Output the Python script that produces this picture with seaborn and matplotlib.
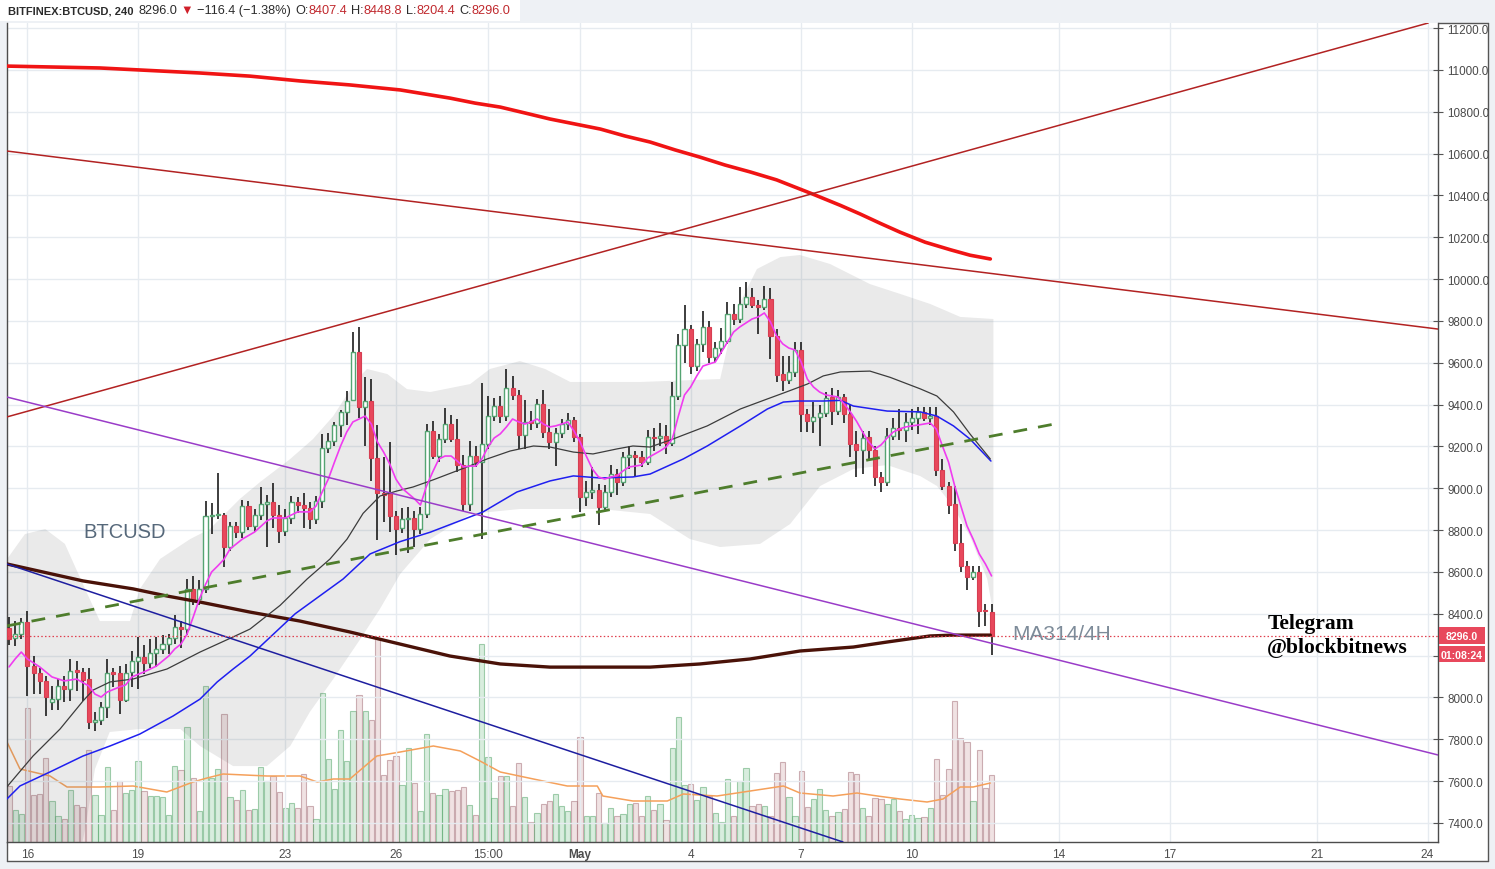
import numpy as np
import pandas as pd
import matplotlib
matplotlib.use("Agg")
import matplotlib.pyplot as plt
import seaborn as sns
from matplotlib.patches import Rectangle
from matplotlib.lines import Line2D

# ---- data: BITFINEX BTCUSD 4h candles, first bar 2018-04-15 12:00 ----
start_time = pd.Timestamp("2018-04-15 12:00")

opens = [8332, 8284, 8303, 8361, 8150, 8117, 8079, 7980, 7992, 8055,
         8040, 8131, 8120, 8088, 7883, 7890, 7955, 8122, 8117, 7988,
         8122, 8174, 8194, 8165, 8213, 8232, 8255, 8284, 8337, 8327,
         8519, 8470, 8519, 8867, 8872, 8872, 8719, 8820, 8791, 8915,
         8820, 8872, 8925, 8935, 8872, 8796, 8858, 8935, 8920, 8905,
         8853, 8939, 9193, 9226, 9303, 9365, 9420, 9650, 9388, 9417,
         9145, 8977, 8977, 8867, 8810, 8853, 8858, 8805, 8877, 9274,
         9154, 9235, 9307, 9235, 9110, 8925, 9154, 9125, 9212, 9345,
         9393, 9345, 9479, 9446, 9254, 9320, 9312, 9403, 9269, 9221,
         9264, 9307, 9326, 9245, 8958, 8982, 8990, 8911, 8982, 9068,
         9030, 9150, 9160, 9150, 9125, 9245, 9238, 9250, 9216, 9441,
         9685, 9761, 9584, 9690, 9770, 9627, 9670, 9704, 9833, 9809,
         9880, 9914, 9876, 9866, 9905, 9728, 9546, 9517, 9555, 9661,
         9355, 9322, 9341, 9360, 9437, 9370, 9437, 9355, 9212, 9183,
         9245, 9183, 9054, 9030, 9250, 9288, 9280, 9317, 9335, 9365,
         9335, 9345, 9087, 9011, 8925, 8738, 8628, 8576, 8600, 8420,
         8407.4]
highs = [8386, 8366, 8381, 8415, 8198, 8140, 8102, 8055, 8088, 8102,
         8184, 8175, 8140, 8141, 7930, 7980, 8184, 8140, 8150, 8160,
         8222, 8289, 8250, 8280, 8290, 8300, 8304, 8395, 8365, 8565,
         8582, 8560, 8939, 8930, 9073, 8880, 8839, 8840, 8945, 8940,
         8900, 9005, 8968, 9025, 8920, 8900, 8965, 8960, 8975, 8935,
         8965, 9260, 9265, 9315, 9375, 9465, 9745, 9770, 9532, 9520,
         9300, 9150, 9220, 8890, 8905, 8910, 8890, 8910, 9308, 9320,
         9260, 9383, 9350, 9330, 9160, 9225, 9200, 9503, 9440, 9430,
         9440, 9570, 9535, 9470, 9420, 9370, 9425, 9470, 9380, 9290,
         9330, 9360, 9340, 9260, 9035, 9100, 9020, 9015, 9110, 9092,
         9175, 9200, 9180, 9180, 9280, 9290, 9310, 9300, 9508, 9737,
         9876, 9780, 9715, 9847, 9800, 9700, 9765, 9890, 9880, 9962,
         9986, 9957, 9900, 9967, 9957, 9760, 9630, 9630, 9700, 9700,
         9380, 9410, 9400, 9460, 9480, 9470, 9450, 9400, 9275, 9275,
         9275, 9200, 9080, 9290, 9335, 9379, 9360, 9380, 9390, 9390,
         9390, 9390, 9140, 9030, 9010, 8830, 8650, 8630, 8630, 8445,
         8448.8]
lows = [8251, 8246, 8279, 8007, 8016, 8016, 7911, 7940, 7940, 7980,
        7985, 8030, 7985, 7850, 7840, 7870, 7900, 8050, 7920, 7980,
        8050, 8040, 8110, 8140, 8145, 8210, 8210, 8255, 8235, 8300,
        8440, 8440, 8500, 8782, 8853, 8624, 8700, 8760, 8760, 8800,
        8790, 8850, 8720, 8810, 8740, 8770, 8830, 8880, 8810, 8805,
        8830, 8905, 9170, 9200, 9245, 9300, 9417, 9335, 9202, 9035,
        8755, 8840, 8790, 8680, 8785, 8690, 8720, 8780, 8860, 9140,
        9125, 9215, 9220, 9080, 8891, 8890, 9100, 8757, 9190, 9320,
        9310, 9320, 9420, 9188, 9190, 9280, 9290, 9240, 9188, 9106,
        9240, 9280, 9220, 8886, 8915, 8950, 8825, 8890, 8960, 8970,
        9010, 9090, 9060, 9100, 9110, 9180, 9200, 9165, 9200, 9420,
        9600, 9546, 9560, 9650, 9600, 9605, 9640, 9690, 9780, 9790,
        9860, 9860, 9737, 9850, 9618, 9508, 9465, 9500, 9530, 9269,
        9270, 9265, 9200, 9340, 9300, 9350, 9310, 9150, 9055, 9070,
        9140, 9011, 8982, 9010, 9230, 9230, 9220, 9280, 9260, 9320,
        9300, 9060, 8990, 8876, 8700, 8600, 8514, 8560, 8337, 8340,
        8204.4]
closes = [8280, 8303, 8361, 8150, 8117, 8079, 8000, 7992, 8055, 8040,
          8126, 8120, 8083, 7883, 7890, 7955, 8117, 8112, 7988, 8117,
          8174, 8194, 8165, 8213, 8232, 8255, 8284, 8337, 8327, 8519,
          8462, 8519, 8867, 8872, 8877, 8719, 8820, 8791, 8915, 8820,
          8872, 8925, 8935, 8872, 8796, 8858, 8935, 8920, 8905, 8853,
          8939, 9193, 9226, 9303, 9365, 9417, 9650, 9388, 9417, 9145,
          8977, 8968, 8867, 8805, 8853, 8858, 8805, 8877, 9274, 9154,
          9235, 9307, 9235, 9110, 8925, 9154, 9125, 9212, 9345, 9393,
          9345, 9479, 9446, 9254, 9317, 9312, 9403, 9269, 9221, 9264,
          9307, 9326, 9245, 8958, 8982, 8990, 8911, 8982, 9068, 9030,
          9150, 9160, 9150, 9125, 9245, 9238, 9250, 9216, 9441, 9685,
          9761, 9584, 9690, 9770, 9627, 9670, 9704, 9833, 9809, 9880,
          9914, 9876, 9866, 9905, 9728, 9542, 9517, 9555, 9661, 9355,
          9322, 9341, 9360, 9432, 9370, 9437, 9355, 9212, 9183, 9240,
          9183, 9054, 9030, 9250, 9288, 9280, 9317, 9335, 9365, 9335,
          9345, 9087, 9011, 8920, 8738, 8628, 8576, 8600, 8413, 8413,
          8296.0]
volume = [55.7, 32.3, 28, 134, 47.3, 48.3, 84, 41.3, 26.3, 23,
          52.3, 37.3, 34.7, 92.3, 47.3, 27.3, 75, 32.3, 61.3, 49,
          52.3, 81.3, 51.3, 45.7, 46.3, 44.7, 27.3, 76.3, 72.3, 115,
          64, 31.3, 156.3, 64, 73, 128, 45, 42.3, 52.3, 32.3,
          33, 75, 60.7, 65.7, 50, 34, 39, 34, 68, 36.3,
          23, 149, 83, 53, 112.3, 81.3, 130.7, 146.7, 130.7, 122.3,
          203, 67.3, 82.3, 86.3, 57.3, 94, 59, 31.3, 108.3, 49,
          47.3, 53.3, 50.7, 52.3, 54.7, 37.3, 27.3, 198, 85, 44,
          66.3, 66.3, 36.3, 79, 45, 20, 29, 38, 41.3, 48,
          36.3, 31.3, 41.3, 105, 25.7, 26.3, 49, 19, 34, 26.3,
          28, 38, 39, 26.3, 46.3, 32.3, 38, 22.3, 94, 125,
          57.3, 58, 42.3, 55, 45.7, 29, 20, 63, 26.3, 60.7,
          74, 36.3, 38.3, 36.3, 26.3, 69, 80, 44.7, 25.7, 71.3,
          35, 43, 53, 32.3, 26.3, 30, 33, 70, 68, 34,
          26.3, 44, 43, 38, 43.3, 31.3, 23.3, 27.3, 24, 25,
          34, 83, 47.3, 73, 141.3, 104, 100, 41.3, 92.3, 54,
          66.7]

# indicator lines (bar position, value)
pink_idx = [0, 1, 2, 3, 5, 7, 9, 11, 13, 14, 15, 16, 18, 19, 20, 22, 24, 26, 27, 28,
            29, 30, 31, 32, 33, 34, 35, 36, 38, 40, 42, 43, 45, 47, 49, 50] \
    + list(range(51, 105)) + list(range(106, 161))
pink_val = [8146, 8184, 8217, 8184, 8146, 8098, 8079, 8088, 8055, 8016, 8002, 8026,
            8050, 8060, 8098, 8122, 8150, 8198, 8232, 8255, 8303, 8385, 8471, 8540,
            8600, 8629, 8660, 8710, 8757, 8791, 8844, 8858, 8858, 8887, 8887, 8915,
            8982, 9044, 9125, 9202, 9269, 9317, 9331, 9345, 9307, 9221,
            9173, 9116, 9044, 9000, 8975, 8950, 8920, 9011, 9078, 9140,
            9154, 9154, 9130, 9102, 9106, 9106, 9140, 9197, 9240, 9260,
            9293, 9331, 9317, 9307, 9317, 9331, 9307, 9293, 9298, 9307,
            9317, 9274, 9221, 9154, 9092, 9054, 9044, 9054, 9059, 9083,
            9102, 9106, 9111, 9145,
            9178, 9197, 9235, 9345, 9446, 9484, 9537, 9584, 9594, 9603,
            9651, 9699, 9747, 9771, 9790, 9809, 9819, 9838, 9795, 9728,
            9690, 9670, 9661, 9603, 9522, 9484, 9460, 9446, 9441, 9436,
            9403, 9365, 9321, 9269, 9221, 9188, 9207, 9240, 9269, 9283,
            9293, 9298, 9302, 9307, 9312, 9283, 9202, 9125, 9011, 8915,
            8820, 8757, 8686, 8638, 8581]

black_idx = [-0.33, 3.91, 8.31, 12.05, 13.68, 16.45, 20.2, 25.73, 31.11, 36.48, 39.25,
             44.14, 48.54, 52.28, 55.05, 57.66, 60.42, 63.19, 65.8, 69.06, 74.6, 77.85,
             81.6, 85.4, 88.1, 91.9, 95.1, 99.0, 101.6, 104.4, 108.1, 113.7, 119.1,
             123.5, 126.1, 130.0, 132.6, 135.4, 140.2, 143.5, 148.4, 151.1, 153.8,
             156.5, 159.8]
black_val = [7573, 7720, 7849, 7983, 8035, 8074, 8088, 8136, 8217, 8289, 8327,
             8440, 8566, 8662, 8757, 8880, 8963, 8987, 9006, 9040, 9102, 9140,
             9178, 9202, 9197, 9173, 9164, 9188, 9202, 9197, 9235, 9298, 9379,
             9427, 9455, 9498, 9537, 9556, 9560, 9530, 9475, 9441, 9365,
             9259, 9140]

blue_idx = [-0.33, 1.79, 6.68, 12.05, 16.45, 21.3, 26.7, 31.1, 33.9, 36.5, 39.25,
            46.6, 54.4, 58.8, 63.7, 68.6, 77.2, 82.7, 88.1, 91.9, 96.3, 101.6,
            104.4, 109.8, 113.7, 119.1, 123.5, 126.1, 128.4, 132.6, 135.4, 137.5,
            143.0, 148.4, 151.1, 153.8, 156.5, 159.9]
blue_val = [7515, 7577, 7644, 7720, 7768, 7825, 7911, 7992, 8074, 8136, 8198,
            8400, 8566, 8686, 8745, 8790, 8887, 8982, 9035, 9059, 9049, 9054,
            9068, 9140, 9202, 9298, 9379, 9412, 9417, 9417, 9420, 9393,
            9369, 9365, 9345, 9298, 9235, 9130]

ma314_idx = [-0.33, 12.05, 20.2, 25.7, 31.1, 39.25, 47.4, 55.5, 63.7, 71.8, 80.0,
             88.1, 96.3, 104.4, 112.5, 120.7, 128.8, 137.5, 143.0, 150.0, 153.8, 159.8]
ma314_val = [8638, 8557, 8519, 8485, 8456, 8408, 8365, 8313, 8255, 8198, 8160,
             8145, 8145, 8145, 8160, 8184, 8222, 8241, 8265, 8294, 8298, 8298]

red_ma_idx = [-0.33, 14.8, 31.1, 39.25, 47.4, 55.5, 63.7, 71.8, 75.9, 80.0, 84.0, 88.1,
              92.2, 96.3, 100.3, 104.4, 108.5, 112.5, 116.6, 120.7, 125.0, 130.9,
              135.4, 138.6, 141.9, 145.1, 149.2, 153.3, 156.5, 159.8]
red_ma_val = [11018, 11009, 10985, 10970, 10947, 10928, 10904, 10865, 10841, 10822,
              10794, 10765, 10741, 10717, 10684, 10655, 10617, 10583, 10545, 10512,
              10474, 10406, 10352, 10311, 10266, 10224, 10176, 10140, 10114, 10096]

vol_ma_idx = [-0.33, 1.79, 6.68, 9.45, 14.8, 20.2, 25.7, 29.97, 32.25, 34.85, 42.0,
              47.4, 50.2, 52.8, 55.5, 59.9, 63.7, 69.1, 73.5, 76.7, 80.0, 85.4,
              90.9, 95.8, 96.7, 101.6, 107.2, 109.8, 115.3, 120.7, 126.1, 128.8,
              134.2, 138.1, 141.4, 145.1, 149.5, 152.1, 154.9, 157.0, 159.8]
vol_ma_val = [100, 73, 66, 55, 55, 56, 50, 60, 64, 68, 66,
              66, 60, 63, 63, 86, 90, 96, 91, 81, 70, 63,
              56, 56, 46, 41, 41, 48, 46, 51, 56, 49,
              46, 49, 46, 43, 40, 43, 55, 55, 59]

band_up_idx = [-0.3, 2.6, 5.9, 9.1, 12.4, 14.8, 19.7, 21.3, 24.6, 29.5, 32.7, 37.6,
               40.9, 45.8, 49.5, 52.8, 56.7, 58.3, 61.6, 64.8, 68.6, 75.1, 78.3,
               83.2, 87.3, 91.4, 102.8, 115.8, 117.4, 119.1, 121.8, 125.6, 128.8,
               133.7, 140.2, 145.1, 150.0, 154.9, 160.3]
band_up_val = [8662, 8781, 8805, 8734, 8518, 8365, 8365, 8518, 8662, 8757, 8805, 8949,
               9030, 9140, 9235, 9345, 9522, 9570, 9546, 9474, 9460, 9498, 9570,
               9608, 9570, 9508, 9508, 9522, 9728, 9890, 10048, 10105, 10115,
               10072, 9976, 9929, 9881, 9819, 9809]
band_lo_idx = [-0.3, 10.7, 12.4, 14.0, 16.4, 21.3, 27.9, 31.1, 36.5, 42.0, 45.8, 49.0,
               52.8, 57.2, 60.4, 63.7, 68.6, 75.1, 83.2, 96.3, 104.4, 110.9, 115.8,
               122.3, 127.2, 132.1, 137.5, 143.0, 148.4, 151.1, 153.7, 156.5, 159.3,
               160.3]
band_lo_val = [7132, 7132, 7371, 7658, 7835, 7849, 7849, 7768, 7672, 7672, 7768, 7931,
               8088, 8279, 8423, 8590, 8757, 8877, 8901, 8901, 8877, 8757, 8719,
               8734, 8829, 9011, 9092, 9111, 9058, 9011, 8915, 8770, 8566, 8398]

# hand drawn trend lines (bar position, price)
red_up_idx, red_up_val = [-0.33, 231.1], [9341, 11224]
red_dn_idx, red_dn_val = [-0.33, 232.7], [10612, 9761]
purple_idx, purple_val = [-0.33, 232.7], [9436, 7725]
navy_idx, navy_val = [-0.33, 135.8], [8638, 7309]
green_idx, green_val = [-0.33, 170.4], [8342, 9308]

tick_times = ["2018-04-16", "2018-04-19", "2018-04-23", "2018-04-26", "2018-04-28 12:00",
              "2018-05-01", "2018-05-04", "2018-05-07", "2018-05-10", "2018-05-14",
              "2018-05-17", "2018-05-21", "2018-05-24"]
tick_labels = ["16", "19", "23", "26", "15:00", "May", "4", "7", "10", "14", "17", "21", "24"]
price_ticks = list(range(7400, 11201, 200))
last_price = 8296.0
countdown = "01:08:24"

# ---- figure ----
W, H = 1495, 870
BG = "#eef1f5"
sns.set_style("white")
plt.rcParams["font.family"] = ["Liberation Sans", "DejaVu Sans"]

fig = plt.figure(figsize=(W / 100, H / 100), dpi=100, facecolor=BG)
rect = [7 / W, 1 - 843 / H, 1431 / W, 819 / H]

fig.add_artist(Rectangle((7 / W, 1 - 862 / H), 1481 / W, 838 / H, transform=fig.transFigure,
                         facecolor="white", edgecolor="none", zorder=-5))
for xs, ys in [([1488, 1488], [24, 862]), ([7, 1488], [862, 862]), ([7, 7], [843, 862]),
               ([1438, 1488], [24, 24])]:
    fig.add_artist(Line2D([x / W for x in xs], [1 - y / H for y in ys], transform=fig.transFigure,
                          color="#555555", lw=1, zorder=-4))

axv = fig.add_axes(rect)
ax = fig.add_axes(rect, sharex=axv)
axv.set_zorder(0)
ax.set_zorder(1)
ax.patch.set_visible(False)
axv.set_facecolor("white")

o = np.array(opens, float)
h = np.array(highs, float)
l = np.array(lows, float)
c = np.array(closes, float)
v = np.array(volume, float)
idx = np.arange(len(c))
up = c >= o
start_ix = lambda t: (pd.Timestamp(t) - start_time) / pd.Timedelta(hours=4)

# volume
vcol = np.where(up[:, None], [[0.42, 0.74, 0.50, 0.26]], [[0.78, 0.56, 0.58, 0.26]])
vedge = np.where(up[:, None], [[0.36, 0.66, 0.44, 0.55]], [[0.66, 0.46, 0.49, 0.55]])
axv.bar(idx, v, width=0.86, color=vcol, edgecolor=vedge, linewidth=0.8)
sns.lineplot(x=vol_ma_idx, y=vol_ma_val, ax=axv, color="#f5a05a", linewidth=1.1,
             sort=False, estimator=None)
axv.set_ylim(0, 819)
for s in axv.spines.values():
    s.set_visible(False)
axv.tick_params(left=False, bottom=False, labelleft=False, labelbottom=False)
axv.set_xlabel("")
axv.set_ylabel("")

# band
ax.fill(np.r_[band_up_idx, band_lo_idx[::-1]], np.r_[band_up_val, band_lo_val[::-1]],
        color=(0.45, 0.45, 0.45, 0.15), lw=0, zorder=1)

# candles
ax.vlines(idx, l, h, color="#1c1c1c", lw=1.2, zorder=4)
body_lo = np.minimum(o, c)
body_h = np.maximum(np.abs(c - o), 3)
ax.bar(idx[up], body_h[up], bottom=body_lo[up], width=0.66, facecolor="white",
       edgecolor="#55a472", linewidth=1.0, zorder=5)
ax.bar(idx[~up], body_h[~up], bottom=body_lo[~up], width=0.66, facecolor="#e8485c",
       edgecolor="#d63e52", linewidth=0.8, zorder=5)

# moving averages
for xs, ys, col, lw in [(red_ma_idx, red_ma_val, "#f01414", 2.6),
                        (ma314_idx, ma314_val, "#4a1208", 2.4),
                        (blue_idx, blue_val, "#1f1ff0", 1.1),
                        (black_idx, black_val, "#3c3c3c", 0.9),
                        (pink_idx, pink_val, "#f03cf0", 1.2)]:
    sns.lineplot(x=xs, y=ys, ax=ax, color=col, linewidth=lw, sort=False, estimator=None, zorder=6)

# trend lines
for xs, ys, col in [(red_up_idx, red_up_val, "#b22222"), (red_dn_idx, red_dn_val, "#b22222"),
                    (purple_idx, purple_val, "#9a3cc8"), (navy_idx, navy_val, "#1e1ea0")]:
    sns.lineplot(x=xs, y=ys, ax=ax, color=col, linewidth=1.1, sort=False, estimator=None, zorder=7)
ax.plot(green_idx, green_val, color="#4e7d2c", lw=2.0, ls=(0, (5, 4)), zorder=7)
ax.axhline(last_price, color="#e0404f", lw=0.9, ls=(0, (1.2, 1.8)), zorder=7)

# axes
ax.set_xlim(-0.326, 232.7)
ax.set_ylim(7309, 11224)
ax.set_xlabel("")
ax.set_ylabel("")
ax.yaxis.tick_right()
ax.set_yticks(price_ticks)
# the 8200 label sits under the last-price box on the scale
ax.set_yticklabels(["" if abs(p - last_price) < 100 else f"{p:.1f}" for p in price_ticks])
ax.set_xticks([start_ix(t) for t in tick_times])
ax.set_xticklabels(tick_labels)
for lab in ax.get_xticklabels():
    if lab.get_text() == "May":
        lab.set_fontweight("bold")
ax.tick_params(axis="y", direction="inout", length=7, width=0.8, color="#555555",
               labelsize=8.4, labelcolor="#4a4a4a", pad=3, right=True, left=False)
ax.tick_params(axis="x", length=0, labelsize=8.6, labelcolor="#4d4d4d", pad=4)
ax.grid(True, color="#e6ebf0", lw=1)
ax.set_axisbelow(True)
for side in ["left", "bottom", "right"]:
    ax.spines[side].set_color("#4c4c4c")
    ax.spines[side].set_linewidth(1)
ax.spines["top"].set_visible(False)

# labels on chart
ax.text(12.05, 8791, "BTCUSD", fontsize=14.5, color="#56687a", va="center", ha="left", zorder=8)
ax.text(163.4, 8308, "MA314/4H", fontsize=15, color="#7d8b99", va="center", ha="left", zorder=8)
ax.text(204.9, 8332, "Telegram", fontsize=15.5, fontweight="bold", family="Liberation Serif",
        color="black", va="baseline", ha="left", zorder=8)
ax.text(204.9, 8217, "@blockbitnews", fontsize=15.5, fontweight="bold", family="Liberation Serif",
        color="black", va="baseline", ha="left", zorder=8)

# price boxes on the scale
for y0, y1, txt in [(628, 645, f"{last_price:.1f}"), (647, 663, countdown)]:
    fig.add_artist(Rectangle((1439 / W, 1 - y1 / H), 46 / W, (y1 - y0) / H,
                             transform=fig.transFigure, facecolor="#e8485c", edgecolor="none", zorder=5))
    fig.text(1462 / W, 1 - (y0 + y1) / 2 / H, txt, color="white", fontsize=7.6, fontweight="bold",
             ha="center", va="center_baseline", zorder=6)

# header line
fig.add_artist(Rectangle((0, 1 - 22 / H), 520 / W, 22 / H, transform=fig.transFigure,
                         facecolor="white", edgecolor="none", zorder=-3))
fig.canvas.draw()
renderer = fig.canvas.get_renderer()
dark, red = "#2b2b2b", "#c0282d"
parts = [("BITFINEX:BTCUSD, 240", dark, "bold", 5), ("8296.0", dark, "normal", 3),
         ("\u25bc", "#d0202a", "normal", 4), ("\u2212116.4 (\u22121.38%)", dark, "normal", 4),
         ("O:", dark, "normal", 0), ("8407.4", red, "normal", 4),
         ("H:", dark, "normal", 0), ("8448.8", red, "normal", 4),
         ("L:", dark, "normal", 0), ("8204.4", red, "normal", 4),
         ("C:", dark, "normal", 0), ("8296.0", red, "normal", 0)]
xpx = 8
for txt, col, wt, gap in parts:
    size = 8.0 if wt == "bold" else 9.2
    t = fig.text(xpx / W, 1 - 11 / H, txt, color=col, fontsize=size, fontweight=wt,
                 ha="left", va="center")
    xpx += t.get_window_extent(renderer=renderer).width + gap

fig.savefig("out.png", dpi=100, facecolor=BG)
